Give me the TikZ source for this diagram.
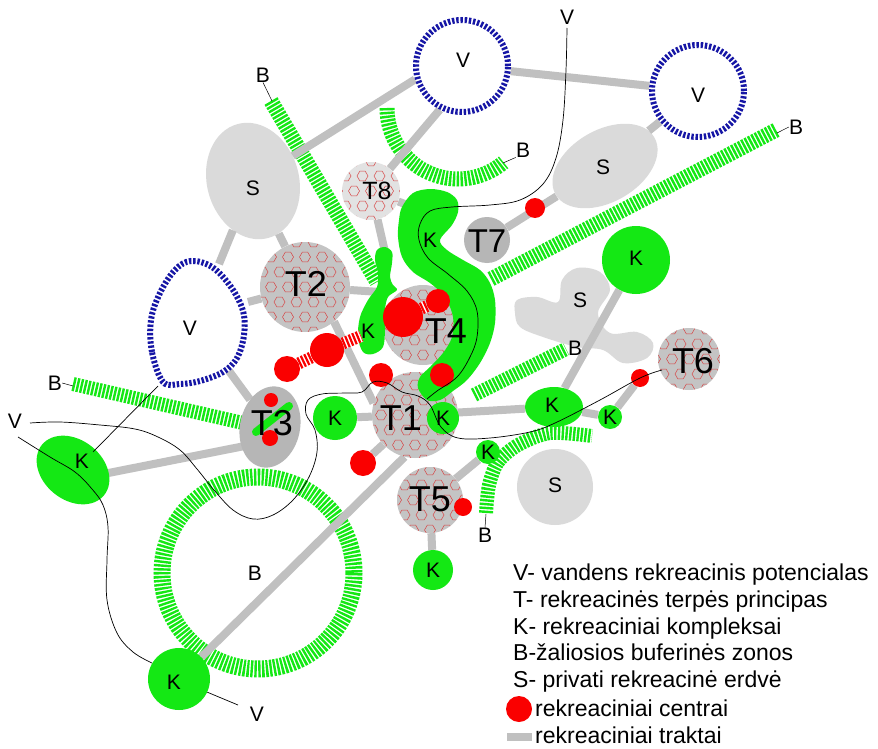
\documentclass[tikz,border=0pt]{standalone}
\usepackage{fontspec}
\setmainfont{Liberation Sans}
\usetikzlibrary{shapes.geometric}
\pgfdeclarelayer{bgw}
\pgfdeclarelayer{buf}
\pgfdeclarelayer{trk}
\pgfsetlayers{bgw,buf,trk,main}
\definecolor{kgreen}{RGB}{20,232,20}
\definecolor{trcol}{RGB}{192,192,192}
\definecolor{sgray}{RGB}{218,218,218}
\definecolor{tgray}{RGB}{196,196,196}
\definecolor{teightgray}{RGB}{226,226,226}
\definecolor{tsevengray}{RGB}{182,182,182}
\definecolor{vblue}{RGB}{22,22,165}
\definecolor{hexred}{RGB}{215,70,70}
\definecolor{cred}{RGB}{250,0,0}
\newcommand\lblf{\fontsize{21}{21}\selectfont}
\newcommand\tlf{\fontsize{36}{36}\selectfont}
\newcommand\legf{\fontsize{23}{23}\selectfont}
\tikzset{
  hexpat/.style={path picture={
    \begin{scope}[shift={(path picture bounding box.center)}, draw=hexred, line width=0.5pt]
    \foreach \j in {-4,...,4}{
      \foreach \i in {-4,...,4}{
        \pgfmathsetmacro\hx{\i*17+mod(abs(\j),2)*8.5}
        \pgfmathsetmacro\hy{\j*15}
        \draw[hexred] (\hx+5.5,\hy) -- (\hx+2.75,\hy+4.8) -- (\hx-2.75,\hy+4.8) -- (\hx-5.5,\hy) -- (\hx-2.75,\hy-4.8) -- (\hx+2.75,\hy-4.8) -- cycle;
      }}
    \end{scope}}},
  tract/.style={draw=trcol, line width=8pt},
  buffer/.style={draw=kgreen, line width=15pt, dash pattern=on 2.4pt off 1.4pt},
  vring/.style={circle, draw=vblue, line width=6pt, dash pattern=on 2.4pt off 1.8pt, outer sep=3pt, inner sep=0pt},
  tcirc/.style={circle, fill=tgray, inner sep=0pt, hexpat},
  kshape/.style={fill=kgreen, inner sep=0pt},
  sshape/.style={fill=sgray, inner sep=0pt},
  rdot/.style={circle, fill=cred, inner sep=0pt},
  rbar/.style={draw=cred, line width=12pt, dash pattern=on 2.2pt off 1.6pt, preaction={draw=white, solid, line width=12pt}},
  river/.style={draw=black, line width=0.7pt},
  lbl/.style={font=\lblf, inner sep=0pt},
  tlbl/.style={font=\tlf, inner sep=0pt},
  leg/.style={font=\legf, inner sep=0pt, anchor=base west},
}
\begin{document}
\begin{tikzpicture}[x=1pt,y=-1pt]
\begin{pgfonlayer}{bgw}
\path[use as bounding box, fill=white] (0,0) rectangle (878,749);
\end{pgfonlayer}

% ---------- buffer zones and private spaces (bottom layer)
\begin{pgfonlayer}{buf}
\draw[buffer] (271,101) -- (377,282);
\draw[buffer] (387,108) arc[start angle=180, end angle=50, radius=71];
\draw[buffer] (491,279) -- (776,130);
\draw[buffer, line width=14pt] (474,395) -- (566,349);
\draw[buffer, line width=14pt] plot[smooth] coordinates {(486,513) (489,485) (498,462) (518,445) (550,433) (592,436)};
\draw[buffer, line width=14pt] (73,384) -- (243,423);
\draw[buffer, line width=17pt] (258,573) circle[radius=96];
\node[sshape, ellipse, minimum width=92, minimum height=118, rotate=15] (S1) at (253,181) {};
\node[sshape, ellipse, minimum width=114, minimum height=72, rotate=30] (S2) at (605,166) {};
\fill[sgray] plot[smooth cycle, tension=0.6] coordinates {(517,300) (537,297) (558,302) (562,280) (577,268) (600,272) (610,290) (598,313) (610,333) (637,332) (653,343) (647,358) (623,363) (603,350) (577,347) (543,337) (520,327) (515,313)};
\node[sshape, circle, minimum size=76] (S4) at (555,487) {};
\end{pgfonlayer}

% ---------- water rings
\node[vring, minimum size=92] (V1) at (462,66) {};
\node[vring, minimum size=92] (V2) at (698,91) {};
\draw[vblue, line width=6pt, dash pattern=on 2.4pt off 1.8pt] plot[smooth cycle, tension=0.6] coordinates {(163,382) (152,352) (151,320) (160,293) (175,270) (191,261) (212,267) (231,287) (243,311) (244,335) (237,358) (223,372) (200,381) (180,384)};
\coordinate (V3a) at (219,264);
\coordinate (V3b) at (248,302);
\coordinate (V3c) at (229,371);
\coordinate (V3d) at (158,386);

% ---------- recreational environments T
\node[tcirc, minimum size=86] (T1) at (415,415) {};
\node[tcirc, minimum size=90] (T2) at (305,287) {};
\node[ellipse, fill=tsevengray, inner sep=0pt, minimum width=60, minimum height=82, rotate=-12] (T3) at (270,427) {};
\node[tcirc, minimum size=80] (T4) at (423,325) {};
\node[tcirc, minimum size=66] (T5) at (430,500) {};
\node[tcirc, minimum size=62] (T6) at (689,359) {};
\node[circle, fill=tsevengray, inner sep=0pt, minimum size=46] (T7) at (487,240) {};
\node[tcirc, fill=teightgray, minimum size=58] (T8) at (371,191) {};

% ---------- complexes K
\fill[kgreen] plot[smooth cycle, tension=0.55] coordinates {(402,207) (413,193) (430,189) (447,192) (457,200) (458,212) (452,225) (440,240) (447,250) (463,260) (480,270) (490,283) (495,300) (495,323) (490,343) (480,363) (467,380) (453,391) (440,400) (427,400) (418,388) (420,377) (430,367) (443,353) (452,337) (453,317) (445,297) (430,283) (413,272) (402,257) (398,237) (399,220)};
\fill[kgreen] plot[smooth cycle, tension=0.55] coordinates {(377,250) (385,247) (392,252) (392,263) (390,277) (393,285) (397,290) (388,297) (385,310) (385,330) (383,347) (373,354) (363,352) (358,337) (360,317) (368,300) (377,287) (378,273) (375,260)};
\coordinate (K1a) at (410,206);
\coordinate (K2a) at (380,292);
\coordinate (K2b) at (385,252);
\coordinate (K2c) at (361,336);
\node[kshape, circle, minimum size=68] (K3) at (636,260) {};
\node[kshape, ellipse, minimum width=58, minimum height=40] (K4) at (554,407) {};
\node[kshape, circle, minimum size=24] (K5) at (610,417) {};
\node[kshape, circle, minimum size=24] (K6) at (488,452) {};
\node[kshape, circle, minimum size=44] (K7) at (335,418) {};
\node[kshape, circle, minimum size=32] (K8) at (443,418) {};
\node[kshape, circle, minimum size=40] (K9) at (433,570) {};
\node[kshape, circle, minimum size=62] (K10) at (179,679) {};
\node[kshape, ellipse, minimum width=80, minimum height=60, rotate=-39] (K11) at (73,470) {};
\draw[kgreen, line width=8pt, line cap=round] (256,432) -- (289,406);

% ---------- tracts (under the shapes)
\begin{pgfonlayer}{trk}
\draw[tract] (S1) -- (V1.196);
\draw[tract] (V1.243) -- (T8);
\draw[tract] (V1) -- (V2);
\draw[tract] (V2) -- (S2);
\draw[tract] (S2) -- (T7);
\draw[tract] (S1) -- (V3a);
\draw[tract] (S1) -- (T2);
\draw[tract] (V3b) -- (T2);
\draw[tract] (T2) -- (K2a);
\draw[tract] (T2.-50) -- (T1.164);
\draw[tract] (V3c) -- (T3);
\draw[tract] ([yshift=-14pt]T3.center) -- ([yshift=-10pt]K11.center);
\draw[tract] (K7) -- (T1);
\draw[tract] (T1) -- (K4);
\draw[tract] (K10) -- (T1.-104);
\draw[tract] (K4) -- (K3);
\draw[tract] (K4) -- (K5);
\draw[tract] (T5) -- (K6);
\draw[tract] (T5) -- (K9);
\draw[tract] (T8) -- (K2b);
\draw[tract] (T8) -- (K1a);
\end{pgfonlayer}

% ---------- recreational centres
\node[rdot, minimum size=20] (R1) at (535,208) {};
\node[rdot, minimum size=40] (R2) at (403,317) {};
\node[rdot, minimum size=24] (R3) at (438,301) {};
\node[rdot, minimum size=24] (R4) at (442,375) {};
\node[rdot, minimum size=24] (R5) at (381,375) {};
\node[rdot, minimum size=26] (R6) at (363,463) {};
\node[rdot, minimum size=34] (R7) at (327,350) {};
\node[rdot, minimum size=26] (R8) at (287,369) {};
\node[rdot, minimum size=14] (R9) at (271,400) {};
\node[rdot, minimum size=16] (R10) at (270,438) {};
\node[rdot, minimum size=18] (R11) at (463,507) {};
\node[rdot, minimum size=18] (R12) at (640,378) {};
\begin{pgfonlayer}{trk}
\draw[tract] (R6) -- (T1);
\draw[tract] (K5) -- (R12);
\end{pgfonlayer}
\draw[rbar] (R2) -- (R3);
\draw[rbar] (R8) -- (R7);
\draw[rbar] (R7) -- (K2c);

% ---------- thin lines (water courses)
\draw[river] plot[smooth, tension=0.6] coordinates {(567,28) (566,70) (563,120) (556,158) (543,184) (520,200) (490,205) (452,207) (430,211) (420,224) (419,240) (428,258) (448,274) (467,291) (477,311) (477,337) (470,357) (457,377) (437,391) (427,399)};
\draw[river] plot[smooth, tension=0.6] coordinates {(30,423) (60,422) (100,425) (135,429) (158,437) (180,450) (197,469) (214,490) (233,510) (253,519) (273,515) (293,500) (309,477) (317,452) (315,430) (306,414) (308,400) (322,394) (345,393) (362,392) (373,382) (387,383) (402,392) (418,396) (430,405) (441,427) (458,438) (490,438) (530,432) (555,423) (600,400) (640,378) (662,370)};
\draw[river] plot[smooth, tension=0.6] coordinates {(18,437) (50,457) (75,472) (92,489) (103,505) (108,527) (107,560) (107,600) (117,633) (133,652) (152,663)};
\draw[river] (K10.-25) -- (238,705);
\draw[river] (93,452) -- (V3d);

% ---------- labels
\node[lbl] (lV1) at (463,60) {V};
\node[lbl] (lV2) at (698,95) {V};
\node[lbl] (lV3) at (190,328) {V};
\node[lbl] (lVt) at (567,17) {V};
\node[lbl] (lVl) at (15,421) {V};
\node[lbl] (lVb) at (257,714) {V};
\node[lbl] (lS1) at (253,188) {S};
\node[lbl] (lS2) at (603,167) {S};
\node[lbl] (lS3) at (580,300) {S};
\node[lbl] (lS4) at (555,485) {S};
\node[lbl] (lK1) at (430,240) {K};
\node[lbl] (lK2) at (368,331) {K};
\node[lbl] (lK3) at (636,258) {K};
\node[lbl] (lK4) at (552,405) {K};
\node[lbl] (lK5) at (610,417) {K};
\node[lbl] (lK6) at (488,452) {K};
\node[lbl] (lK7) at (335,418) {K};
\node[lbl] (lK8) at (443,418) {K};
\node[lbl] (lK9) at (433,570) {K};
\node[lbl] (lK10) at (174,682) {K};
\node[lbl] (lK11) at (82,461) {K};
\node[tlbl] (lT1) at (401,418) {T1};
\node[tlbl] (lT2) at (306,284) {T2};
\node[tlbl] (lT3) at (272,423) {T3};
\node[tlbl] (lT4) at (446,331) {T4};
\node[tlbl] (lT5) at (430,499) {T5};
\node[tlbl] (lT6) at (693,361) {T6};
\node[tlbl, font=\fontsize{33}{33}\selectfont] (lT7) at (487,241) {T7};
\node[tlbl, font=\fontsize{25}{25}\selectfont] (lT8) at (377,191) {T8};
\node[lbl] (lB1) at (263,75) {B};
\node[lbl] (lB2) at (523,150) {B};
\node[lbl] (lB3) at (796,127) {B};
\node[lbl] (lB4) at (575,348) {B};
\node[lbl] (lB5) at (485,535) {B};
\node[lbl] (lB6) at (55,383) {B};
\node[lbl] (lB7) at (255,573) {B};
\coordinate (b1) at (272,101);
\coordinate (b2) at (503,163);
\coordinate (b3) at (777,133);
\coordinate (b5) at (486,514);
\coordinate (b6) at (73,386);
\draw[river, line width=0.5pt] (lB1.south) -- (b1);
\draw[river, line width=0.5pt] (lB2.south west) -- (b2);
\draw[river, line width=0.5pt] (lB3.west) -- (b3);
\draw[river, line width=0.5pt] (lB5.north) -- (b5);
\draw[river, line width=0.5pt] (lB6.east) -- (b6);

% ---------- legend
\node[leg] (L1) at (513,580) {V- vandens rekreacinis potencialas};
\node[leg] (L2) at (513,607) {T- rekreacinės terpės principas};
\node[leg] (L3) at (513,634) {K- rekreaciniai kompleksai};
\node[leg] (L4) at (513,660) {B-žaliosios buferinės zonos};
\node[leg] (L5) at (513,687) {S- privati rekreacinė erdvė};
\node[rdot, minimum size=26] (L6d) at (519,709) {};
\node[leg] (L6) at (535,716) {rekreaciniai centrai};
\coordinate (Lt1) at (507,737);
\coordinate (Lt2) at (532,737);
\draw[tract] (Lt1) -- (Lt2);
\node[leg] (L7) at (535,743) {rekreaciniai traktai};
\end{tikzpicture}
\end{document}
